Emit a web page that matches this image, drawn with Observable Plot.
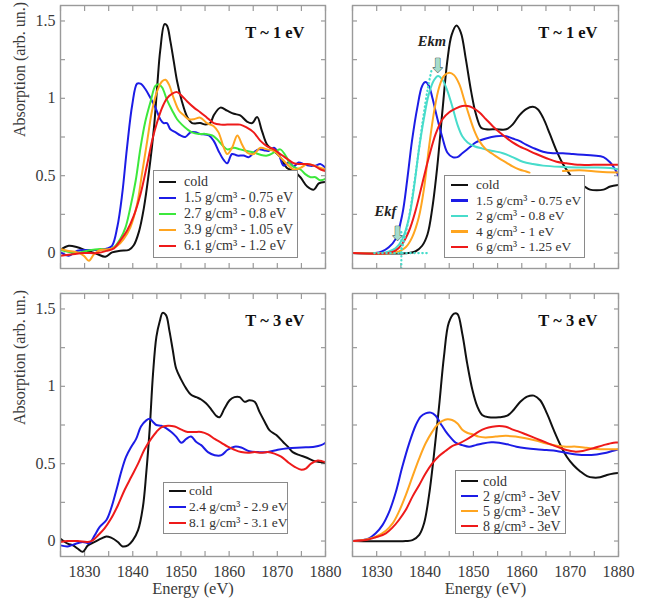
<!DOCTYPE html>
<html><head><meta charset="utf-8">
<script src="https://cdn.jsdelivr.net/npm/d3@7"></script>
<script src="https://cdn.jsdelivr.net/npm/@observablehq/plot@0.6"></script>
<style>
body{margin:0;background:#fff;}
#chart{position:relative;width:654px;height:604px;font-family:"Liberation Serif","Times New Roman",serif;overflow:hidden;}
#chart svg text{font-family:"Liberation Serif","Times New Roman",serif;}
#chart svg g.arrowglyph text{font-family:"DejaVu Sans",sans-serif;}
.panel{position:absolute;}
.legend{position:absolute;background:#fff;border:1px solid #8a8a8a;box-sizing:border-box;color:#333;}
.row{position:absolute;left:0;right:0;white-space:nowrap;}
.sw{position:absolute;height:2.6px;}
.lt{position:absolute;}
</style></head><body><div id="chart"></div><script>
// ---------------- data ----------------
const xTicksMinor = [1825,1830,1835,1840,1845,1850,1855,1860,1865,1870,1875,1880];
const xTickLabels = [1830,1840,1850,1860,1870,1880];
const yTicksMinor = [0,0.25,0.5,0.75,1,1.25,1.5];
const yTickLabels = [0,0.5,1,1.5];

// Top-left (T ~ 1 eV, experiment)
const tlCold = [[1825,0.02],[1826.7,0.047],[1828.5,0.037],[1830.5,0.015],[1832.6,-0.006],[1834.3,-0.024],[1835.7,0.004],[1837.4,0.015],[1839.2,0.02],[1840.2,0.05],[1841.3,0.14],[1842.3,0.29],[1843.3,0.51],[1844.4,0.81],[1845.1,1.09],[1845.7,1.31],[1846.6,1.48],[1847.1,1.47],[1847.8,1.37],[1848.5,1.24],[1849.2,1.11],[1850.2,0.98],[1851.3,0.88],[1852.3,0.84],[1854.0,0.84],[1855.1,0.83],[1856.1,0.84],[1856.8,0.89],[1858.2,0.94],[1859.6,0.92],[1861.0,0.90],[1862.3,0.89],[1863.7,0.85],[1864.8,0.84],[1865.8,0.88],[1866.8,0.79],[1867.9,0.70],[1869.3,0.66],[1870.6,0.62],[1872.0,0.55],[1873.4,0.53],[1874.8,0.49],[1876.2,0.43],[1877.6,0.41],[1878.6,0.45],[1880,0.46]];
const tlBlue = [[1825,0.004],[1826.7,-0.017],[1828.5,0.015],[1830.5,0.02],[1832.6,0.02],[1834.7,0.03],[1835.7,0.047],[1836.8,0.17],[1837.8,0.38],[1838.8,0.68],[1839.9,0.96],[1840.9,1.095],[1841.6,1.095],[1842.6,1.06],[1843.7,1.0],[1844.7,0.94],[1845.7,0.865],[1846.4,0.84],[1847.1,0.84],[1847.8,0.80],[1848.9,0.78],[1849.9,0.76],[1850.9,0.75],[1852.0,0.78],[1853.0,0.78],[1854.0,0.77],[1855.8,0.76],[1856.8,0.725],[1857.8,0.66],[1858.9,0.60],[1859.6,0.58],[1860.6,0.64],[1861.7,0.63],[1863.0,0.63],[1864.1,0.62],[1865.1,0.65],[1866.1,0.67],[1867.2,0.665],[1868.2,0.66],[1869.3,0.68],[1870.3,0.64],[1871.3,0.565],[1872.4,0.585],[1873.4,0.56],[1874.4,0.585],[1875.5,0.575],[1876.5,0.565],[1877.9,0.565],[1878.9,0.575],[1880,0.55]];
const tlGreen = [[1825,0.02],[1828.5,0],[1830.5,0.015],[1833.3,0.026],[1834.7,0.02],[1836.1,0.037],[1837.4,0.09],[1838.5,0.166],[1839.5,0.295],[1840.6,0.467],[1841.6,0.68],[1842.6,0.85],[1843.7,0.98],[1844.7,1.08],[1845.4,1.09],[1846.1,1.07],[1847.1,0.99],[1848.2,0.92],[1849.2,0.865],[1850.2,0.83],[1851.3,0.80],[1852.3,0.78],[1853.7,0.77],[1855.1,0.77],[1856.5,0.76],[1857.5,0.735],[1858.5,0.70],[1859.6,0.67],[1861.0,0.68],[1862.3,0.67],[1863.7,0.66],[1865.1,0.65],[1866.5,0.635],[1867.9,0.63],[1869.3,0.65],[1870.6,0.67],[1871.7,0.63],[1872.7,0.575],[1873.8,0.55],[1874.8,0.54],[1875.8,0.51],[1876.9,0.49],[1877.9,0.49],[1878.9,0.47],[1880,0.48]];
const tlOrange = [[1825,0.026],[1826.4,0.015],[1828.5,0.004],[1829.8,-0.017],[1830.9,-0.05],[1832.0,-0.006],[1833.3,0.02],[1835.4,0.026],[1836.8,0.047],[1838.1,0.09],[1839.5,0.166],[1840.9,0.316],[1841.9,0.51],[1843.0,0.725],[1844.0,0.92],[1845.1,1.05],[1846.1,1.11],[1846.8,1.12],[1847.5,1.09],[1848.5,1.0],[1849.6,0.92],[1850.6,0.89],[1851.6,0.865],[1852.7,0.865],[1854.0,0.875],[1855.4,0.84],[1856.8,0.82],[1857.8,0.78],[1858.9,0.68],[1859.6,0.64],[1860.6,0.68],[1861.7,0.76],[1862.7,0.70],[1863.7,0.65],[1865.1,0.64],[1866.5,0.68],[1867.9,0.67],[1869.3,0.66],[1870.6,0.62],[1872.0,0.575],[1873.4,0.54],[1874.8,0.55],[1876.2,0.575],[1877.6,0.565],[1879.0,0.55],[1880,0.54]];
const tlRed = [[1825,-0.017],[1827.1,-0.01],[1829.8,0],[1832.6,0],[1834.7,0.015],[1836.1,0.03],[1837.4,0.08],[1838.8,0.144],[1840.2,0.24],[1841.6,0.38],[1843.0,0.575],[1844.0,0.725],[1845.1,0.85],[1846.1,0.94],[1847.1,1.0],[1848.2,1.03],[1849.2,1.04],[1850.2,1.015],[1851.3,0.98],[1852.7,0.94],[1854.0,0.91],[1855.4,0.875],[1856.8,0.84],[1858.2,0.83],[1859.6,0.83],[1861.0,0.83],[1862.3,0.83],[1863.7,0.81],[1865.1,0.78],[1866.5,0.725],[1867.9,0.69],[1869.3,0.67],[1870.6,0.64],[1872.0,0.61],[1873.4,0.58],[1874.8,0.575],[1876.2,0.575],[1877.6,0.565],[1879.0,0.54],[1880,0.53]];

// Top-right (T ~ 1 eV, calculation)
const trCold = [[1825,0],[1836.6,0],[1838,0.01],[1839.4,0.047],[1840.5,0.12],[1841.5,0.29],[1842.5,0.55],[1843.6,0.92],[1844.6,1.24],[1845.5,1.41],[1846.5,1.47],[1847.4,1.425],[1848.4,1.26],[1849.5,1.05],[1850.5,0.90],[1851.6,0.81],[1852.6,0.80],[1854.7,0.80],[1856.8,0.80],[1858.1,0.83],[1859.5,0.89],[1860.9,0.93],[1862.3,0.945],[1863.3,0.93],[1864.4,0.875],[1865.8,0.77],[1867.2,0.66],[1868.5,0.575],[1869.9,0.51],[1871.3,0.456],[1872.7,0.435],[1874.1,0.41],[1875.5,0.405],[1876.9,0.41],[1878.3,0.43],[1880,0.44]];
const trBlue = [[1825,0],[1829.7,0],[1831.1,0.01],[1832.5,0.037],[1833.9,0.09],[1835.3,0.25],[1836.3,0.47],[1837.3,0.725],[1838.4,0.94],[1839.4,1.08],[1840.1,1.105],[1840.8,1.08],[1841.5,1.005],[1842.5,0.875],[1843.6,0.745],[1844.6,0.65],[1845.7,0.62],[1846.7,0.62],[1847.7,0.645],[1849.1,0.68],[1850.5,0.715],[1852.6,0.74],[1854.7,0.755],[1856.8,0.755],[1858.1,0.74],[1859.5,0.725],[1860.9,0.70],[1862.3,0.68],[1864.4,0.655],[1866.5,0.645],[1868.5,0.645],[1870.6,0.64],[1872.7,0.635],[1874.8,0.63],[1876.9,0.62],[1878.3,0.585],[1879.3,0.54],[1880,0.50]];
const trCyan = [[1825,0],[1831,0],[1832.5,0.01],[1833.9,0.03],[1835.3,0.09],[1836.7,0.23],[1837.7,0.42],[1838.7,0.66],[1839.8,0.875],[1840.8,1.03],[1841.9,1.12],[1842.7,1.145],[1843.6,1.12],[1844.6,1.05],[1845.7,0.94],[1846.7,0.83],[1847.7,0.755],[1848.8,0.715],[1850.2,0.69],[1851.9,0.675],[1854.0,0.66],[1856.1,0.645],[1858.1,0.62],[1860.2,0.59],[1862.3,0.575],[1864.4,0.565],[1867.9,0.557],[1871.3,0.553],[1874.8,0.553],[1878.3,0.55],[1880,0.54]];
const trOrange = [[1825,0],[1833.2,0],[1834.6,0.01],[1836.0,0.037],[1837.3,0.10],[1838.7,0.23],[1839.8,0.42],[1840.8,0.68],[1841.9,0.92],[1842.9,1.07],[1843.9,1.145],[1845.0,1.165],[1846.0,1.15],[1847.1,1.09],[1848.1,0.99],[1849.1,0.89],[1850.2,0.79],[1851.2,0.725],[1852.6,0.67],[1854.0,0.64],[1855.4,0.61],[1856.8,0.585],[1858.1,0.56],[1859.5,0.54],[1860.9,0.527],[1861.6,0.52],[1865,null],[1868.5,0.53],[1872,0.535],[1876,0.525],[1880,0.52]];
const trRed = [[1825,0],[1832.5,0],[1833.9,0.015],[1835.3,0.06],[1836.7,0.144],[1838.0,0.27],[1839.4,0.445],[1840.8,0.62],[1842.2,0.77],[1843.6,0.865],[1845.0,0.91],[1846.4,0.935],[1847.7,0.95],[1848.8,0.95],[1849.8,0.94],[1851.2,0.91],[1852.6,0.865],[1854.0,0.82],[1855.4,0.78],[1856.8,0.745],[1858.1,0.715],[1859.5,0.69],[1860.9,0.67],[1863.0,0.64],[1865.1,0.613],[1867.2,0.59],[1869.2,0.58],[1872.0,0.57],[1874.8,0.57],[1877.6,0.57],[1880,0.57]];
const trFitBase = [[1829.5,0],[1841,0]];
const trFitEkf = [[1835.1,-0.1],[1835.1,0.15]];
const trFitEdge = [[1835.0,0.0],[1836.5,0.2],[1838,0.5],[1839.5,0.85],[1840.6,1.07],[1841.4,1.19]];
const trNotes = [{label:"Ekm", x:1841.4, y:1.37},{label:"Ekf", x:1831.8, y:0.27}];
const trArrows = [{x:1842.6, y:1.21},{x:1834.3, y:0.125}];

// Bottom-left (T ~ 3 eV, experiment)
const blCold = [[1825,0.015],[1826.5,-0.017],[1827.6,-0.028],[1828.6,-0.05],[1829.6,-0.07],[1830.7,-0.028],[1832.1,-0.006],[1833.4,0.015],[1834.5,0.03],[1835.5,0.022],[1836.9,-0.006],[1837.9,-0.035],[1839.0,-0.028],[1840.0,0.004],[1841.1,0.07],[1842.1,0.22],[1842.8,0.44],[1843.5,0.72],[1844.2,1.08],[1844.9,1.32],[1845.6,1.42],[1846.2,1.475],[1846.9,1.46],[1847.6,1.36],[1848.3,1.235],[1849.0,1.115],[1850.1,1.04],[1851.1,0.985],[1852.1,0.945],[1853.2,0.93],[1854.2,0.915],[1855.2,0.89],[1856.3,0.85],[1857.3,0.81],[1858.0,0.80],[1859.0,0.855],[1860.1,0.91],[1861.1,0.93],[1862.2,0.93],[1863.2,0.90],[1864.2,0.91],[1865.3,0.90],[1866.3,0.835],[1867.4,0.77],[1868.4,0.715],[1869.8,0.685],[1871.2,0.64],[1872.2,0.61],[1873.2,0.575],[1874.6,0.555],[1876.0,0.54],[1877.4,0.52],[1878.8,0.51],[1880,0.505]];
const blBlue = [[1825,-0.028],[1826.5,-0.035],[1827.9,-0.02],[1829.6,-0.006],[1831.0,-0.013],[1832.1,0.037],[1833.1,0.09],[1834.5,0.134],[1835.5,0.21],[1836.6,0.33],[1837.6,0.447],[1838.6,0.544],[1839.7,0.61],[1840.7,0.66],[1841.7,0.74],[1842.8,0.78],[1843.5,0.79],[1844.2,0.77],[1844.9,0.75],[1845.9,0.745],[1846.9,0.73],[1848.0,0.705],[1849.0,0.675],[1850.1,0.635],[1851.1,0.66],[1852.1,0.675],[1853.2,0.64],[1854.2,0.62],[1855.6,0.575],[1857.0,0.555],[1858.4,0.555],[1859.7,0.59],[1861.1,0.61],[1862.5,0.605],[1864.2,0.58],[1866.0,0.575],[1868.0,0.575],[1870.1,0.59],[1872.2,0.6],[1875.0,0.605],[1877.7,0.61],[1879.1,0.62],[1880,0.635]];
const blRed = [[1825,-0.006],[1826.5,0],[1828.6,0],[1830.7,-0.006],[1831.7,0.004],[1832.8,0.037],[1834.1,0.08],[1835.5,0.145],[1836.9,0.23],[1838.3,0.33],[1839.7,0.415],[1841.1,0.5],[1842.4,0.59],[1843.8,0.66],[1844.9,0.705],[1845.9,0.735],[1847.3,0.745],[1848.7,0.74],[1850.1,0.72],[1851.4,0.705],[1852.8,0.705],[1854.2,0.705],[1855.6,0.69],[1857.0,0.66],[1858.4,0.635],[1859.7,0.61],[1861.1,0.59],[1862.5,0.575],[1863.9,0.57],[1865.3,0.575],[1866.7,0.57],[1868.0,0.575],[1869.4,0.565],[1870.8,0.545],[1872.2,0.51],[1873.6,0.48],[1875.0,0.46],[1876.0,0.47],[1877.0,0.50],[1878.4,0.52],[1879.4,0.515],[1880,0.51]];

// Bottom-right (T ~ 3 eV, calculation)
const brCold = [[1825,0],[1836,0],[1837.4,0.006],[1838.8,0.04],[1839.8,0.115],[1840.8,0.29],[1841.8,0.545],[1842.9,0.87],[1843.9,1.19],[1844.9,1.41],[1846.0,1.47],[1846.7,1.468],[1847.7,1.34],[1848.7,1.15],[1849.8,0.976],[1850.8,0.87],[1851.8,0.815],[1853.2,0.80],[1855.3,0.80],[1857.0,0.81],[1858.3,0.847],[1859.7,0.90],[1861.1,0.933],[1862.5,0.94],[1863.8,0.91],[1865.2,0.825],[1866.6,0.718],[1868.0,0.62],[1869.3,0.545],[1870.7,0.49],[1872.1,0.45],[1873.5,0.42],[1874.8,0.41],[1876.2,0.412],[1877.6,0.427],[1879.0,0.437],[1880,0.44]];
const brBlue = [[1825,0],[1827.1,0.006],[1828.4,0.017],[1829.8,0.05],[1831.2,0.103],[1832.6,0.19],[1833.9,0.31],[1835.3,0.48],[1836.7,0.63],[1838.1,0.75],[1839.1,0.804],[1840.1,0.825],[1841.2,0.83],[1842.2,0.81],[1843.2,0.76],[1844.3,0.707],[1845.3,0.668],[1846.3,0.636],[1847.7,0.62],[1849.1,0.61],[1850.5,0.62],[1851.9,0.63],[1853.7,0.638],[1855.3,0.636],[1857.0,0.625],[1858.9,0.61],[1860.9,0.6],[1863.0,0.593],[1865.1,0.588],[1867.2,0.582],[1869.2,0.57],[1871.3,0.56],[1873.4,0.556],[1875.5,0.56],[1877.5,0.57],[1878.9,0.584],[1880,0.593]];
const brOrange = [[1825,0],[1827.8,0.01],[1829.8,0.028],[1831.9,0.067],[1833.3,0.114],[1834.6,0.19],[1836.0,0.295],[1837.4,0.416],[1838.8,0.534],[1840.1,0.63],[1841.5,0.707],[1842.5,0.75],[1843.6,0.776],[1844.6,0.787],[1845.6,0.782],[1846.7,0.76],[1847.7,0.72],[1848.7,0.70],[1849.8,0.69],[1851.1,0.675],[1852.5,0.67],[1854.6,0.675],[1856.7,0.68],[1858.7,0.675],[1860.8,0.664],[1862.9,0.65],[1865.1,0.63],[1867.2,0.616],[1869.2,0.61],[1871.3,0.61],[1873.4,0.603],[1875.5,0.595],[1877.5,0.593],[1880,0.593]];
const brRed = [[1825,0],[1827.8,0.006],[1829.8,0.024],[1831.9,0.05],[1833.3,0.088],[1834.6,0.136],[1836.0,0.2],[1837.4,0.287],[1838.8,0.362],[1840.1,0.437],[1841.5,0.502],[1842.9,0.55],[1844.3,0.584],[1845.6,0.614],[1847.0,0.63],[1848.4,0.653],[1849.8,0.68],[1851.1,0.707],[1852.5,0.728],[1853.9,0.739],[1855.3,0.744],[1856.7,0.739],[1858.0,0.722],[1859.4,0.707],[1860.8,0.69],[1862.9,0.664],[1865.1,0.636],[1867.2,0.61],[1869.2,0.588],[1870.9,0.578],[1872.6,0.582],[1874.8,0.6],[1876.9,0.62],[1879.0,0.636],[1880,0.636]];

const tlLabels = ["cold","1.5 g/cm³ - 0.75 eV","2.7 g/cm³ - 0.8 eV","3.9 g/cm³ - 1.05 eV","6.1 g/cm³ - 1.2 eV"];
const trLabels = ["cold","1.5 g/cm³ - 0.75 eV","2 g/cm³ - 0.8 eV","4 g/cm³ - 1 eV","6 g/cm³ - 1.25 eV"];
const blLabels = ["cold","2.4 g/cm³ - 2.9 eV","8.1 g/cm³ - 3.1 eV"];
const brLabels = ["cold","2 g/cm³ - 3eV","5 g/cm³ - 3eV","8 g/cm³ - 3eV"];

// ---------------- styles ----------------
const C = {black:"#111111", blue:"#1c1ce6", green:"#3ce83c", orange:"#ffa520", red:"#ee1a1a", cyan:"#48dccb"};
const FONT = '"Liberation Serif","Times New Roman",serif';
const AX = "#9a9a9a";

function makePanel(p) {
  const marks = [
    Plot.axisX({anchor:"bottom", ticks:xTicksMinor, tickSize:-5, tickFormat:()=>"", color:AX, label:null, strokeWidth:1.2}),
    Plot.axisX({anchor:"top", ticks:xTicksMinor, tickSize:-5, tickFormat:()=>"", color:AX, label:null, strokeWidth:1.2}),
    Plot.axisY({anchor:"left", ticks:yTicksMinor, tickSize:-5, tickFormat:()=>"", color:AX, label:null, strokeWidth:1.2}),
    Plot.axisY({anchor:"right", ticks:yTicksMinor, tickSize:-5, tickFormat:()=>"", color:AX, label:null, strokeWidth:1.2})
  ];
  if (p.xLabels) {
    marks.push(Plot.axisX({anchor:"bottom", ticks:xTickLabels, tickSize:0, tickPadding:9, tickFormat:d=>String(d), fontSize:16, color:"#3a3a3a", label:null}));
    marks.push(Plot.text(["Energy (eV)"], {text:d=>d, frameAnchor:"bottom", dy:37, fontSize:16.5, fill:"#3a3a3a"}));
  }
  if (p.yLabels) {
    marks.push(Plot.axisY({anchor:"left", ticks:yTickLabels, tickSize:0, tickPadding:5, tickFormat:d=>String(d), fontSize:16, color:"#3a3a3a", label:null}));
    marks.push(Plot.text(["Absorption (arb. un.)"], {text:d=>d, frameAnchor:"left", dx:-41, rotate:-90, fontSize:16, fill:"#3a3a3a"}));
  }
  p.series.forEach(s => {
    marks.push(Plot.line(s.data, {x:d=>d[0], y:d=>d[1], stroke:s.color, strokeWidth:2, curve:"catmull-rom", clip:true}));
  });
  (p.extra || []).forEach(m => marks.push(m));
  marks.push(Plot.text([p.title], {text:d=>d, frameAnchor:"top-right", dx:-21, dy:27, textAnchor:"end", lineAnchor:"middle", fontWeight:"bold", fontSize:16.5, fill:"#111"}));
  marks.push(Plot.frame({stroke:AX, strokeWidth:1.4}));
  const svg = Plot.plot({
    width:p.width, height:p.height,
    marginLeft:p.mL, marginRight:p.mR, marginTop:p.mT, marginBottom:p.mB,
    x:{domain:[1825,1880]},
    y:{domain:[-0.1,1.6]},
    style:{fontFamily:FONT, background:"transparent", overflow:"visible"},
    marks
  });
  const wrap = document.createElement("div");
  wrap.className = "panel";
  wrap.style.left = p.left + "px";
  wrap.style.top = p.top + "px";
  wrap.appendChild(svg);
  return wrap;
}

function makeLegend(box, labels, colors) {
  const div = document.createElement("div");
  div.className = "legend";
  Object.assign(div.style, {left:box.left+"px", top:box.top+"px", width:box.w+"px", height:box.h+"px", fontSize:box.fs+"px"});
  labels.forEach((lab, i) => {
    const row = document.createElement("div");
    row.className = "row";
    const cy = box.first + i*box.step - box.top;
    Object.assign(row.style, {top:(cy - box.step/2)+"px", height:box.step+"px", lineHeight:box.step+"px"});
    const sw = document.createElement("div");
    sw.className = "sw";
    Object.assign(sw.style, {left:box.swX+"px", width:"17px", top:(box.step/2 - 1.3)+"px", background:colors[i]});
    const t = document.createElement("div");
    t.className = "lt";
    Object.assign(t.style, {left:box.tX+"px", top:"0px"});
    t.textContent = lab;
    row.appendChild(sw); row.appendChild(t);
    div.appendChild(row);
  });
  return div;
}

const chart = document.getElementById("chart");

chart.appendChild(makePanel({
  left:0, top:0, width:330, height:290, mL:60, mR:5, mT:5, mB:22,
  title:"T ~ 1 eV", yLabels:true, xLabels:false,
  series:[{data:tlCold,color:C.black},{data:tlBlue,color:C.blue},{data:tlGreen,color:C.green},{data:tlOrange,color:C.orange},{data:tlRed,color:C.red}]
}));

const dotted = {stroke:C.cyan, strokeWidth:2.2, strokeDasharray:"0.5,3.5", strokeLinecap:"round", clip:true};
chart.appendChild(makePanel({
  left:327, top:0, width:327, height:290, mL:25, mR:36, mT:5, mB:22,
  title:"T ~ 1 eV", yLabels:false, xLabels:false,
  series:[{data:trCold,color:C.black},{data:trBlue,color:C.blue},{data:trCyan,color:C.cyan},{data:trOrange,color:C.orange},{data:trRed,color:C.red}],
  extra:[
    Plot.line(trFitBase, {x:d=>d[0], y:d=>d[1], ...dotted}),
    Plot.line(trFitEkf, {x:d=>d[0], y:d=>d[1], ...dotted}),
    Plot.line(trFitEdge, {x:d=>d[0], y:d=>d[1], curve:"catmull-rom", ...dotted}),
    Plot.text(trArrows, {x:"x", y:"y", text:()=>"⬇", className:"arrowglyph", fontSize:19, fill:"#a6dccb", stroke:"#2c3b38", strokeWidth:0.9, lineAnchor:"middle"}),
    Plot.text(trNotes, {x:"x", y:"y", text:"label", fontSize:14.5, fontWeight:"bold", fontStyle:"italic", fill:"#222", lineAnchor:"middle"})
  ]
}));

chart.appendChild(makePanel({
  left:0, top:290, width:330, height:314, mL:60, mR:5, mT:3, mB:48,
  title:"T ~ 3 eV", yLabels:true, xLabels:true,
  series:[{data:blCold,color:C.black},{data:blBlue,color:C.blue},{data:blRed,color:C.red}]
}));

chart.appendChild(makePanel({
  left:327, top:290, width:327, height:314, mL:25, mR:36, mT:3, mB:48,
  title:"T ~ 3 eV", yLabels:false, xLabels:true,
  series:[{data:brCold,color:C.black},{data:brBlue,color:C.blue},{data:brOrange,color:C.orange},{data:brRed,color:C.red}]
}));

chart.appendChild(makeLegend({left:153,top:170,w:145,h:88,first:181,step:16,swX:5,tX:30,fs:14}, tlLabels, [C.black,C.blue,C.green,C.orange,C.red]));
chart.appendChild(makeLegend({left:444,top:175,w:141,h:83,first:184,step:15.5,swX:6,tX:31,fs:13.5}, trLabels, [C.black,C.blue,C.cyan,C.orange,C.red]));
chart.appendChild(makeLegend({left:163,top:482,w:125,h:52,first:490,step:16,swX:5,tX:25,fs:13.5}, blLabels, [C.black,C.blue,C.red]));
chart.appendChild(makeLegend({left:455,top:470,w:111,h:64,first:480,step:15,swX:5,tX:27,fs:14}, brLabels, [C.black,C.blue,C.orange,C.red]));
</script></body></html>
